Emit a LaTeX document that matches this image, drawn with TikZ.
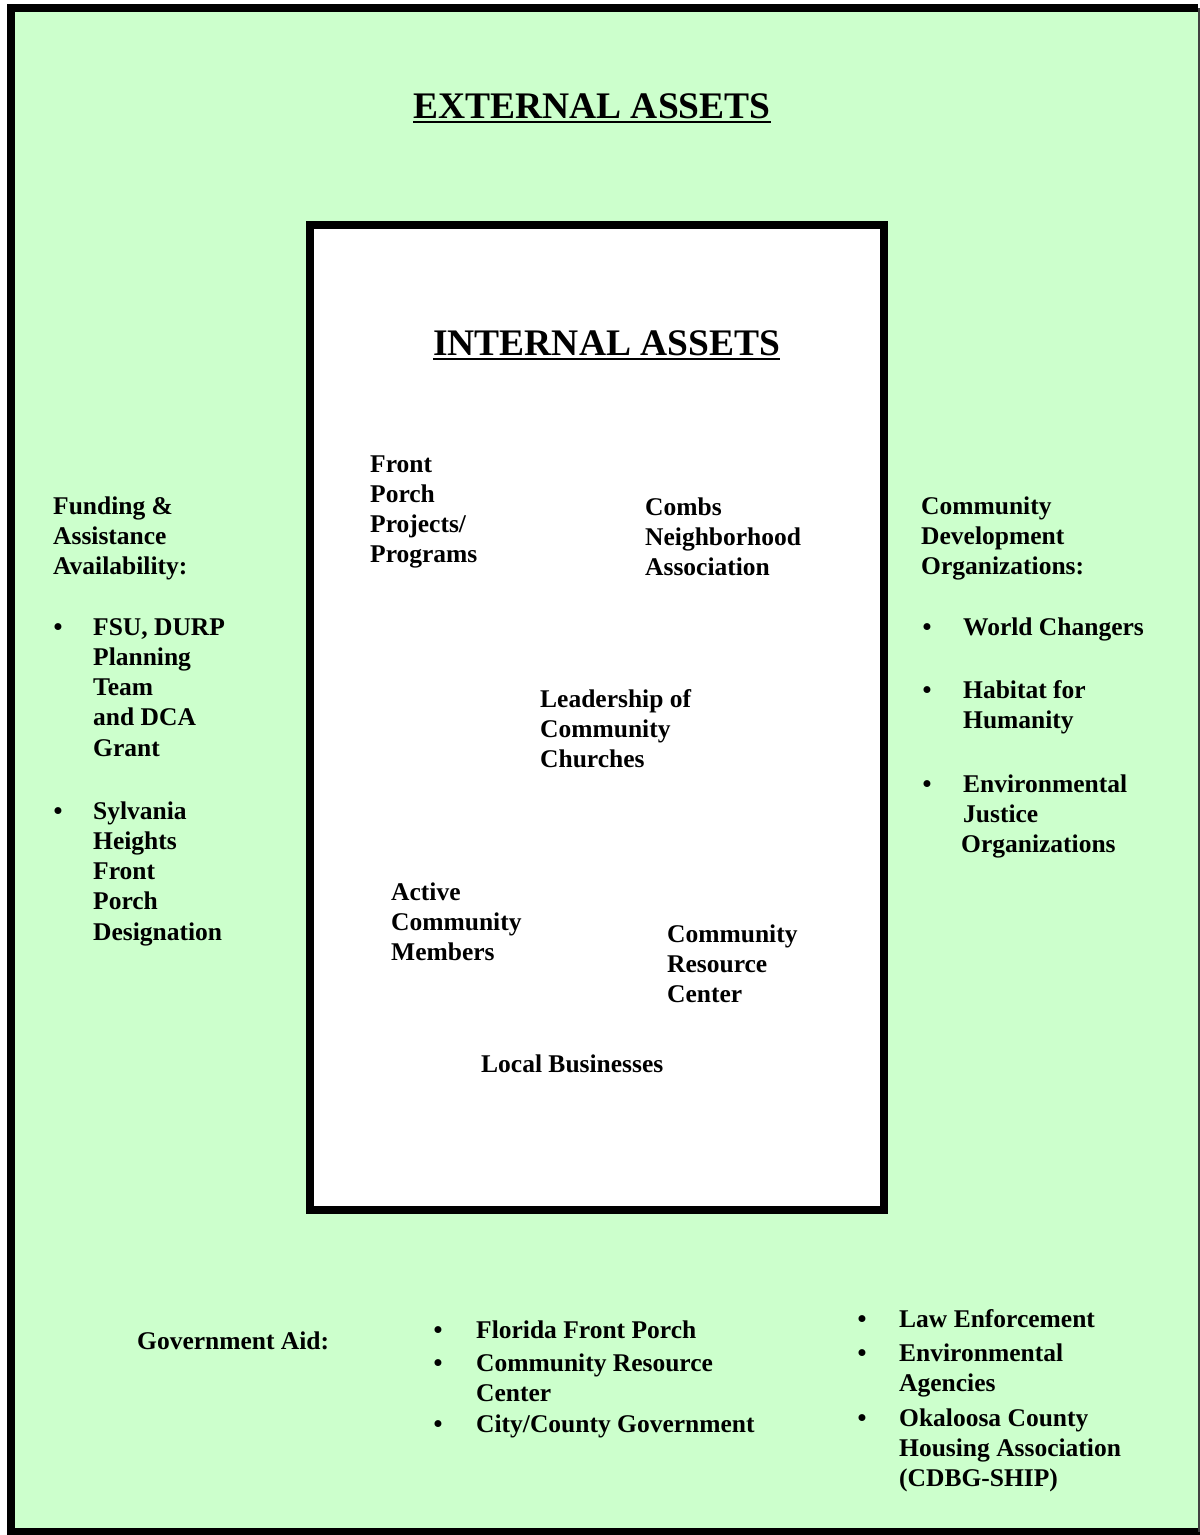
\documentclass[tikz,border=0pt]{standalone}
\usepackage{fontspec}
\setmainfont{Liberation Serif}
\definecolor{bggreen}{RGB}{204,255,204}
\newcommand\mlines[1]{\begin{tabular}[t]{@{}l@{}}#1\end{tabular}}
\begin{document}
\begin{tikzpicture}[x=1pt,y=-1pt,
  txt/.style={font=\bfseries\fontsize{25.5}{30.3}\selectfont, inner sep=0pt, anchor=base west},
  ttl/.style={font=\bfseries\fontsize{37.5}{42}\selectfont, inner sep=0pt, anchor=base west},
  bul/.style={font=\bfseries\fontsize{25.5}{30.3}\selectfont, inner sep=0pt, anchor=base west},
  uline/.style={line width=1.9pt}
]
\useasboundingbox (0,0) rectangle (1200,1535);
% outer green frame
\fill[bggreen] (11,8) rectangle (1198.5,1532);
\draw[line width=8.3pt] (1198,8) -- (11,8) -- (11,1532) -- (1200,1532);
\draw[line width=1.4pt, black!75] (1198.8,8) -- (1198.8,1532);
% inner white box
\filldraw[fill=white, draw=black, line width=8pt] (310,225) rectangle (884,1210);

% titles
\node[ttl] (ext) at (413,118) {EXTERNAL ASSETS};
\draw[uline] ([yshift=-4pt]ext.base west) -- ([yshift=-4pt]ext.base east);
\node[ttl] (int) at (433,355) {INTERNAL ASSETS};
\draw[uline] ([yshift=-4pt]int.base west) -- ([yshift=-4pt]int.base east);

% internal assets
\node[txt] (fpp) at (370,472) {\mlines{Front\\Porch\\Projects/\\Programs}};
\node[txt] (cna) at (645,515) {\mlines{Combs\\Neighborhood\\Association}};
\node[txt] (lcc) at (540,707) {\mlines{Leadership of\\Community\\Churches}};
\node[txt] (acm) at (391,900) {\mlines{Active\\Community\\Members}};
\node[txt] (crc) at (667,942) {\mlines{Community\\Resource\\Center}};
\node[txt] (lb) at (481,1072) {Local Businesses};

% left: funding
\node[txt] (fund) at (53,514) {\mlines{Funding \&\\Assistance\\Availability:}};
\node[bul] (fb1) at (53.5,635) {•};
\node[txt] (fi1) at (93,635) {\mlines{FSU, DURP\\Planning\\Team\\and DCA\\Grant}};
\node[bul] (fb2) at (53.5,819) {•};
\node[txt] (fi2) at (93,819) {\mlines{Sylvania\\Heights\\Front\\Porch\\Designation}};

% right: community development
\node[txt] (cdo) at (921,514) {\mlines{Community\\Development\\Organizations:}};
\node[bul] (cb1) at (922.5,635) {•};
\node[txt] (ci1) at (963,635) {World Changers};
\node[bul] (cb2) at (922.5,698) {•};
\node[txt] (ci2) at (963,698) {\mlines{Habitat for\\Humanity}};
\node[bul] (cb3) at (922.5,792) {•};
\node[txt] (ci3) at (963,792) {\mlines{Environmental\\Justice}};
\node[txt] (ci3b) at (961,852) {Organizations};

% bottom: government aid
\node[txt] (gov) at (137,1349) {Government Aid:};
\node[bul] (gb1) at (433.5,1338) {•};
\node[txt] (gi1) at (476,1338) {Florida Front Porch};
\node[bul] (gb2) at (433.5,1371) {•};
\node[txt] (gi2) at (476,1371) {\mlines{Community Resource\\Center}};
\node[bul] (gb3) at (433.5,1432) {•};
\node[txt] (gi3) at (476,1432) {City/County Government};

% bottom right
\node[bul] (rb1) at (857.5,1327) {•};
\node[txt] (ri1) at (899,1327) {Law Enforcement};
\node[bul] (rb2) at (857.5,1361) {•};
\node[txt] (ri2) at (899,1361) {\mlines{Environmental\\Agencies}};
\node[bul] (rb3) at (857.5,1426) {•};
\node[txt] (ri3) at (899,1426) {\mlines{Okaloosa County\\Housing Association\\(CDBG-SHIP)}};
\end{tikzpicture}
\end{document}
